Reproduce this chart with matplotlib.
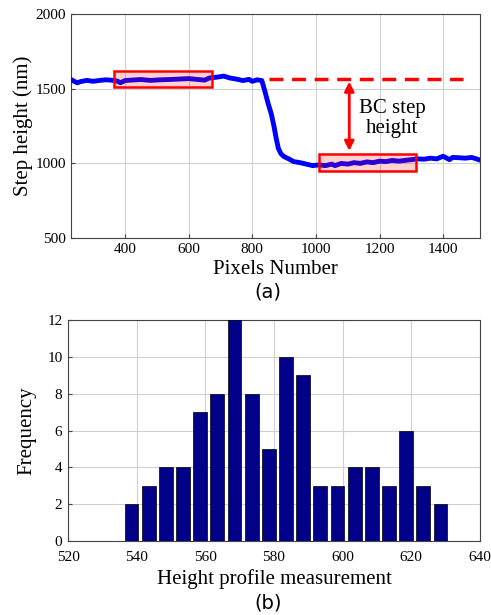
import matplotlib
matplotlib.use("Agg")
from matplotlib import pyplot as plt
from matplotlib.patches import Rectangle

# (a) step height profile
pixels = [230, 240, 250, 260, 280, 300, 320, 340, 360, 375, 385, 400, 420,
          450, 480, 510, 540, 570, 600, 630, 650, 665, 690, 710, 730, 750,
          770, 790, 800, 815, 830, 840, 850, 860, 868, 875, 882, 890, 900,
          915, 930, 950, 970, 990, 1010, 1030, 1050, 1060, 1080, 1100, 1120,
          1140, 1160, 1180, 1200, 1220, 1240, 1260, 1280, 1300, 1320, 1340,
          1360, 1380, 1400, 1420, 1430, 1450, 1470, 1490, 1505, 1516]
height = [1562, 1550, 1540, 1548, 1556, 1550, 1556, 1560, 1557, 1552, 1540,
          1555, 1558, 1562, 1556, 1560, 1562, 1565, 1568, 1562, 1558, 1572,
          1578, 1585, 1572, 1565, 1555, 1563, 1550, 1560, 1555, 1480, 1400,
          1330, 1250, 1170, 1100, 1065, 1045, 1030, 1012, 1005, 995, 985,
          990, 985, 995, 985, 1000, 995, 1005, 1000, 1010, 1005, 1015, 1012,
          1020, 1015, 1020, 1025, 1030, 1028, 1035, 1030, 1048, 1025, 1040,
          1038, 1035, 1040, 1030, 1022]

# regions used for averaging
top_box = (365, 1510, 307, 110)
bottom_box = (1010, 952, 305, 113)
ref_level = 1567

# (b) histogram of the height profile
bin_centers = [538.5, 543.5, 548.5, 553.5, 558.5, 563.5, 568.5, 573.5, 578.5,
               583.5, 588.5, 593.5, 598.5, 603.5, 608.5, 613.5, 618.5, 623.5,
               628.5]
counts = [2, 3, 4, 4, 7, 8, 12, 8, 5, 10, 9, 3, 3, 4, 4, 3, 6, 3, 2]

plt.rcParams['font.family'] = 'Liberation Serif'
plt.rcParams['xtick.direction'] = 'in'
plt.rcParams['ytick.direction'] = 'in'

fig = plt.figure(figsize=(4.91, 6.15), dpi=100)

ax1 = fig.add_axes([0.1446, 0.613, 0.833, 0.364])
ax1.plot(pixels, height, color='blue', lw=3.5, zorder=3)
for x0, y0, w, h in (top_box, bottom_box):
    ax1.add_patch(Rectangle((x0, y0), w, h, facecolor=(1, 0, 0, 0.18),
                            edgecolor='red', lw=1.8, zorder=4))
ax1.plot([853, 1462], [ref_level, ref_level], color='red', lw=2.5,
         ls=(0, (4, 2.5)), zorder=4)
ax1.annotate('', xy=(1105, 1065), xytext=(1105, ref_level),
             arrowprops=dict(arrowstyle='<|-|>', color='red', lw=2,
                             mutation_scale=14), zorder=5)
ax1.text(1240, 1300, 'BC step\nheight', ha='center', va='center',
         fontsize=15, linespacing=1.1)
ax1.set_xlim(230, 1516)
ax1.set_ylim(500, 2000)
ax1.set_xticks([400, 600, 800, 1000, 1200, 1400])
ax1.set_yticks([500, 1000, 1500, 2000])
ax1.grid(True, color='#d0d0d0', lw=0.8)
ax1.tick_params(labelsize=11, length=3, color='#444444')
ax1.set_xlabel('Pixels Number', fontsize=15, labelpad=3)
ax1.set_ylabel('Step height (nm)', fontsize=15, labelpad=2)
for s in ax1.spines.values():
    s.set_color('#444444')
    s.set_linewidth(0.8)
fig.text(0.546, 0.525, '(a)', ha='center', va='center', fontsize=14,
         family='DejaVu Sans')

ax2 = fig.add_axes([0.1385, 0.1203, 0.839, 0.3594])
ax2.bar(bin_centers, counts, width=4.0, color='#000088', edgecolor='black',
        lw=0.5, zorder=3)
ax2.set_xlim(520, 640)
ax2.set_ylim(0, 12)
ax2.set_xticks(range(520, 641, 20))
ax2.set_yticks(range(0, 13, 2))
ax2.grid(True, color='#d0d0d0', lw=0.8)
ax2.tick_params(labelsize=11, length=3, color='#444444')
ax2.tick_params(axis='x', pad=7)
ax2.tick_params(axis='y', pad=4)
ax2.set_xlabel('Height profile measurement', fontsize=15, labelpad=4)
ax2.set_ylabel('Frequency', fontsize=15, labelpad=8)
for s in ax2.spines.values():
    s.set_color('#444444')
    s.set_linewidth(0.8)
fig.text(0.546, 0.02, '(b)', ha='center', va='center', fontsize=14,
         family='DejaVu Sans')

fig.savefig('out.png', dpi=100)
